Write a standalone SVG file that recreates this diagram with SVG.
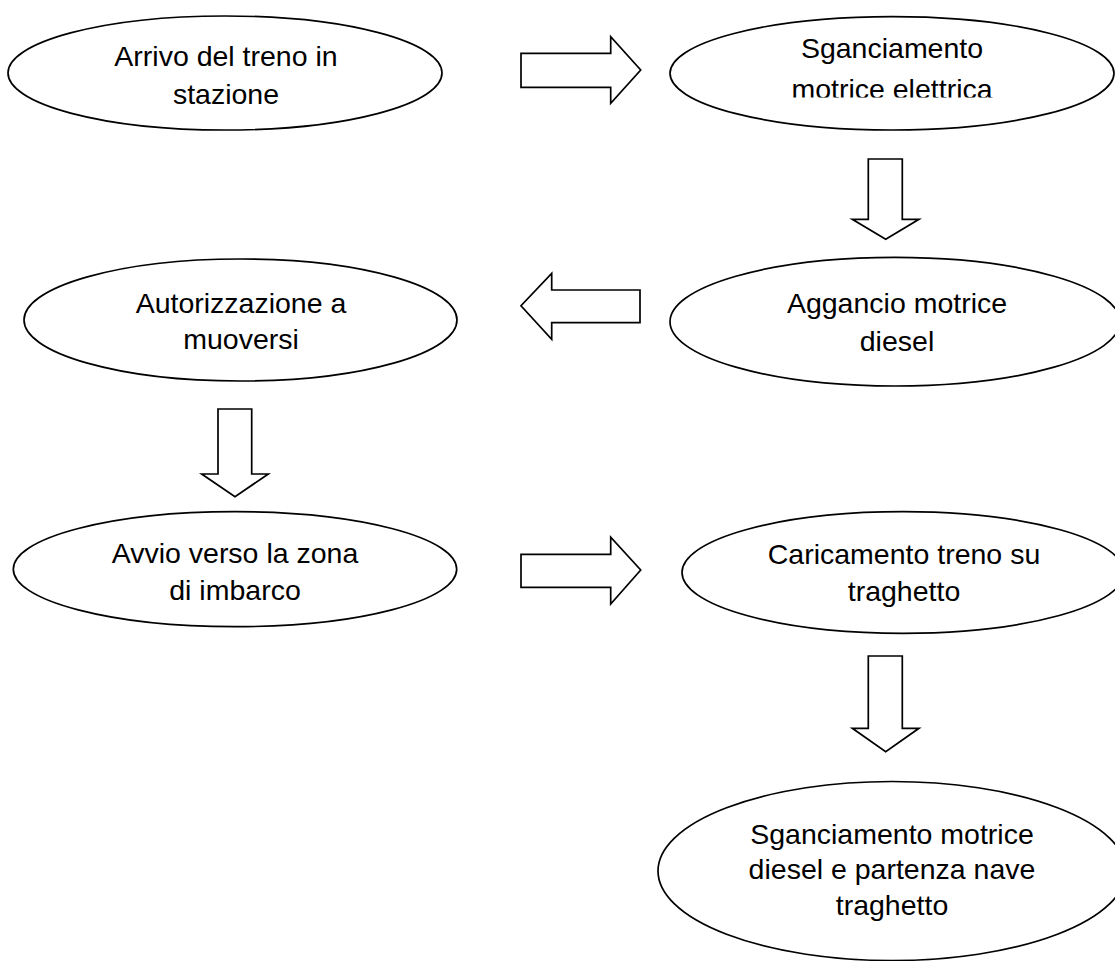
<svg xmlns="http://www.w3.org/2000/svg" width="1115" height="961" viewBox="0 0 1115 961">
<style>
.node ellipse{fill:#fff;stroke:#000;stroke-width:1.7}
.node text{font-family:"Liberation Sans",Arial,sans-serif;font-size:28.5px;fill:#000;text-anchor:middle}
.conn polygon{fill:#fff;stroke:#000;stroke-width:1.7;stroke-linejoin:miter}
</style>
<defs>
<clipPath id="cut2"><rect x="660" y="0" width="460" height="97.5"/></clipPath>
</defs>
<rect width="1115" height="961" fill="#fff"/>
<g id="connectors" class="conn">
<polygon points="521,53.3 610.7,53.3 610.7,36.7 640.7,70 610.7,103.3 610.7,87.3 521,87.3"/>
<polygon points="868.3,159 902.3,159 902.3,219.3 919,219.3 885.7,239.3 852.3,219.3 868.3,219.3"/>
<polygon points="640,290 551.7,290 551.7,273.3 521,305.7 551.7,339.3 551.7,322.7 640,322.7"/>
<polygon points="218,409 251.7,409 251.7,474 268.3,474 235,496.7 201.7,474 218,474"/>
<polygon points="521,554.3 610.7,554.3 610.7,537.3 640.7,570 610.7,604 610.7,587.3 521,587.3"/>
<polygon points="868.3,656 902.3,656 902.3,728.3 919,728.3 885.7,751.7 852.3,728.3 868.3,728.3"/>
</g>
<g id="n1" class="node">
<ellipse cx="225" cy="73" rx="217" ry="57"/>
<text x="226" y="65.7">Arrivo del treno in</text>
<text x="226" y="104">stazione</text>
</g>
<g id="n2" class="node">
<ellipse cx="892" cy="73.3" rx="222" ry="56.7"/>
<text x="892" y="58.3">Sganciamento</text>
<text x="892" y="99" clip-path="url(#cut2)">motrice elettrica</text>
</g>
<g id="n3" class="node">
<ellipse cx="895" cy="321.7" rx="225" ry="64.3"/>
<text x="897" y="313.3">Aggancio motrice</text>
<text x="897" y="350.7">diesel</text>
</g>
<g id="n4" class="node">
<ellipse cx="240.5" cy="320" rx="216.5" ry="61"/>
<text x="241" y="312.7">Autorizzazione a</text>
<text x="241" y="349">muoversi</text>
</g>
<g id="n5" class="node">
<ellipse cx="235" cy="569.2" rx="221.7" ry="57.5"/>
<text x="235" y="562.7">Avvio verso la zona</text>
<text x="235" y="600">di imbarco</text>
</g>
<g id="n6" class="node">
<ellipse cx="903" cy="572.5" rx="221" ry="60.8"/>
<text x="904" y="564">Caricamento treno su</text>
<text x="904" y="601">traghetto</text>
</g>
<g id="n7" class="node">
<ellipse cx="892" cy="871" rx="234" ry="89.5"/>
<text x="892" y="844">Sganciamento motrice</text>
<text x="892" y="879.3">diesel e partenza nave</text>
<text x="892" y="915">traghetto</text>
</g>
</svg>
